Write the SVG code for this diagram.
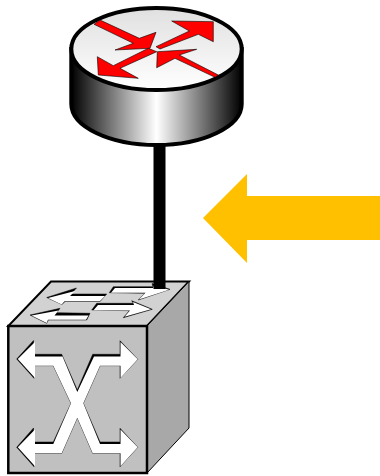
<svg xmlns="http://www.w3.org/2000/svg" width="380" height="476" viewBox="0 0 380 476">
<style>
.o{stroke:#000;stroke-linejoin:miter}
.red{fill:#f00;stroke:#000;stroke-width:.6}
.wa{fill:#fff}
.sh{fill:#000;stroke:#000;stroke-width:.5;stroke-linejoin:round}
</style>
<defs>
<linearGradient id="side" x1="0" x2="1" y1="0" y2="0">
<stop offset="0" stop-color="#000"/><stop offset=".5" stop-color="#fff"/><stop offset="1" stop-color="#000"/>
</linearGradient>
<linearGradient id="top" x1="0" x2="0" y1="0" y2="1">
<stop offset="0" stop-color="#e0e0e0"/><stop offset="1" stop-color="#fff"/>
</linearGradient>
</defs>
<g id="switch">
<polygon points="8.300,326 147,326 189,281.500 51,281.500" fill="#d2d2d2" class="o" stroke-width="2"/>
<polygon points="147,326 189,281.500 189,428 147,473" fill="#a8a8a8" class="o" stroke-width="1"/>
<rect x="8.300" y="326" width="138.700" height="147" fill="#c0c0c0" class="o" stroke-width="2.500"/>
<polygon class="sh" points="16.700,359 33.500,340.500 34,354.300 61.700,354.300 77.300,390 92.700,354.300 120,354.300 120,340.700 137.700,359.300 120,378.300 120,365.700 100,365.700 83.300,403.300 100,442 120,442 120,428.300 137.700,447.300 120,466.700 120,453.300 92.700,453.300 77.300,417.700 61.700,453.300 34,453.300 34,466.700 16.700,447.300 33.500,428 34,442 53.300,442 71,403.300 53.300,365.700 34,365.700 34,378.300"/>
<polygon class="wa" points="17.800,359 35,342 35,356.500 62.500,356.500 77.300,392 94,356.500 120.500,356.500 120.500,342 137.700,359.300 120.500,378 120.500,365.700 100,365.700 83.300,403.300 100,444 120.500,444 120.500,429.500 137.700,447.300 120.500,466.200 120.500,453.300 92.700,453.300 77.300,417.700 61.700,453.300 35,453.300 35,466.200 17.800,447.300 35,429.500 35,444 53.300,444 71,403.300 53.300,365.700 35,365.700 35,378"/>
<polygon class="sh" points="46.700,297.500 76.500,288 71,294 106.700,294 100,301.500 65,301.500 62,304.500"/>
<polygon class="sh" points="30,315 60,308.300 56.700,312.700 90,313.300 86.700,320 48.300,320 46.700,323.300"/>
<polygon class="sh" points="109.300,292.700 113.300,286.700 153,286.700 152,283.500 170,289.300 138.300,300 145,293.300"/>
<polygon class="sh" points="91.700,310 96.700,303.300 133.300,303.300 131.700,300.700 152.300,309.300 123.300,317.700 129.300,310.700"/>
<polygon class="wa" points="48,298 75,291 70,296 105,296 99.800,301.200 64.500,301.200 61.700,304.500"/>
<polygon class="wa" points="31.500,315.500 58.500,310.500 54.500,315.500 88.500,315.500 86,319.800 48,319.800 46.700,323"/>
<polygon class="wa" points="111,292.700 115,288 153,288 154,285 169,289.800 139,299.500 145.500,292.700"/>
<polygon class="wa" points="93.500,310.300 98,305 134,305 133,302 151,309.300 124.500,316.700 130,310.500"/>
</g>
<g id="connectors">
<rect x="153.500" y="146" width="12" height="143" fill="#000"/>
</g>
<g id="router">
<path d="M71.300 49V104C71.300 126.600 109.500 145 156.500 145S241.700 126.600 241.700 104V49Z" fill="url(#side)" class="o" stroke-width="4"/>
<ellipse cx="156.500" cy="49" rx="85.200" ry="41" fill="url(#top)" class="o" stroke-width="4"/>
<polygon class="red" points="94,24.300 100,20 139.300,38.300 156,32.300 150,48.300 115,50 133.300,43.300"/>
<polygon class="red" points="171.700,21 213.300,21.700 213.300,41.700 198.300,34.300 160,49 156,46.700 189.300,31"/>
<polygon class="red" points="97.300,56.700 98.300,75 138.300,78.300 120,68.300 156.700,51.700 148.300,48.300 113.300,65.700"/>
<polygon class="red" points="157.300,51.700 196.700,49.300 179.300,55 218.300,75 215,77.300 175,58.300 156.700,67.700"/>
</g>
<g id="pointer">
<polygon points="203,218 247,174 247,196 380,196 380,240 247,240 247,263" fill="#ffc000"/>
</g>
</svg>
